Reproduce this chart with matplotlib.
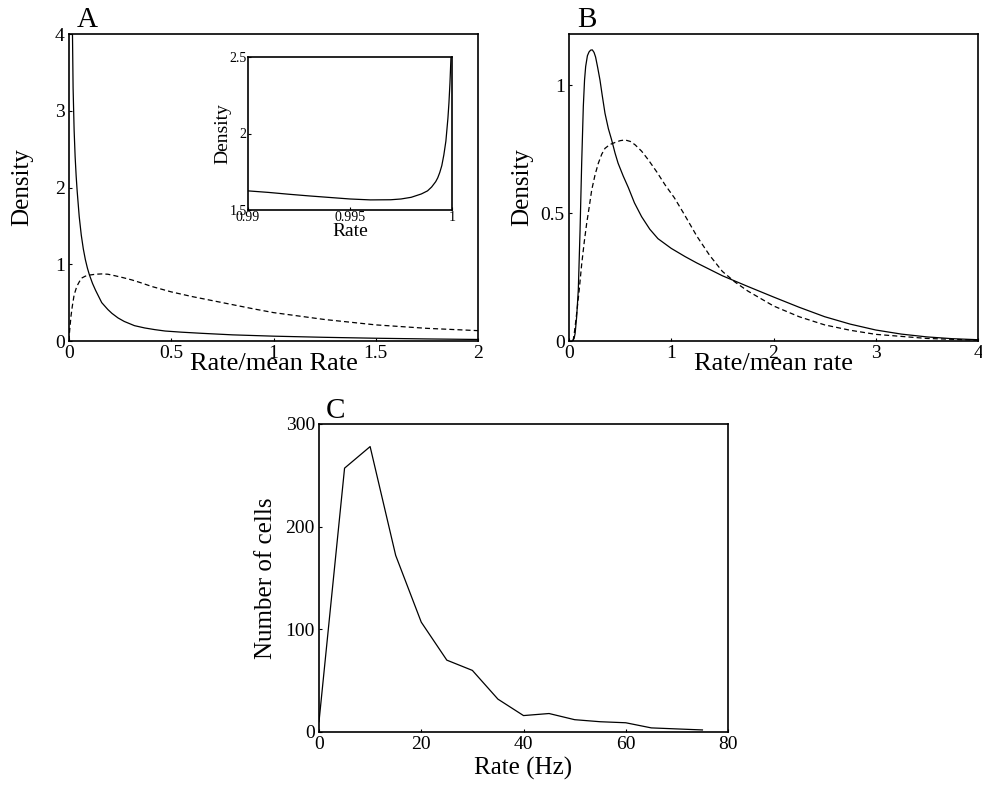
import numpy as np
import matplotlib
matplotlib.use("Agg")
import matplotlib.pyplot as plt

plt.rcParams['font.family'] = ['Liberation Serif', 'DejaVu Serif']

# panel A: density of rate / mean rate
a_solid_x = [0.017, 0.02, 0.025, 0.03, 0.035, 0.04, 0.05, 0.06, 0.07, 0.08, 0.09, 0.1,
             0.115, 0.13, 0.16, 0.19, 0.21, 0.24, 0.27, 0.32, 0.37, 0.42, 0.47, 0.55,
             0.65, 0.8, 1.0, 1.25, 1.5, 1.75, 2.0]
a_solid_y = [4.0, 3.3, 2.75, 2.4, 2.15, 1.95, 1.62, 1.38, 1.2, 1.06, 0.95, 0.86,
             0.75, 0.66, 0.5, 0.41, 0.36, 0.3, 0.255, 0.2, 0.17, 0.148, 0.13, 0.115,
             0.1, 0.08, 0.063, 0.048, 0.036, 0.027, 0.02]
a_dash_x = [0.0, 0.002, 0.005, 0.01, 0.016, 0.025, 0.038, 0.05, 0.062, 0.08, 0.103,
            0.13, 0.16, 0.19, 0.225, 0.265, 0.307, 0.35, 0.405, 0.5, 0.6, 0.75, 0.9,
            1.0, 1.25, 1.5, 1.75, 2.0]
a_dash_y = [0.0, 0.1, 0.19, 0.33, 0.45, 0.6, 0.71, 0.77, 0.82, 0.845, 0.86,
            0.87, 0.874, 0.87, 0.85, 0.825, 0.796, 0.76, 0.71, 0.64, 0.58, 0.5, 0.42,
            0.37, 0.28, 0.21, 0.165, 0.135]

# inset of A
ins_x = [0.99, 0.991, 0.992, 0.993, 0.994, 0.995, 0.996, 0.997, 0.9975, 0.998, 0.9985,
         0.9988, 0.999, 0.9992, 0.9993, 0.9994, 0.9995, 0.9996, 0.9997, 0.9998,
         0.99985, 0.9999, 0.99995]
ins_y = [1.625, 1.615, 1.603, 1.592, 1.582, 1.572, 1.566, 1.567, 1.572, 1.583, 1.605,
         1.625, 1.65, 1.685, 1.71, 1.745, 1.79, 1.86, 1.95, 2.1, 2.2, 2.33, 2.5]

# panel B
b_solid_x = [0.033, 0.05, 0.06, 0.075, 0.091, 0.108, 0.124, 0.14, 0.152, 0.163, 0.18,
             0.196, 0.212, 0.228, 0.245, 0.26, 0.28, 0.303, 0.325, 0.352, 0.385, 0.417,
             0.45, 0.48, 0.53, 0.58, 0.64, 0.71, 0.79, 0.87, 1.0, 1.135, 1.25, 1.5,
             1.75, 2.0, 2.25, 2.5, 2.75, 3.0, 3.25, 3.5, 3.75, 4.0]
b_solid_y = [0.0, 0.01, 0.03, 0.095, 0.2, 0.43, 0.695, 0.917, 1.02, 1.073, 1.115,
             1.13, 1.137, 1.138, 1.128, 1.11, 1.07, 1.02, 0.96, 0.89, 0.83, 0.786,
             0.735, 0.695, 0.645, 0.6, 0.54, 0.486, 0.437, 0.40, 0.362, 0.33,
             0.305, 0.255, 0.213, 0.172, 0.132, 0.095, 0.066, 0.043, 0.027, 0.016,
             0.009, 0.005]
b_dash_x = [0.04, 0.055, 0.075, 0.1, 0.124, 0.15, 0.173, 0.2, 0.222, 0.255, 0.287,
            0.32, 0.352, 0.4, 0.45, 0.5, 0.548, 0.6, 0.646, 0.71, 0.776, 0.86, 0.94,
            1.03, 1.12, 1.25, 1.375, 1.5, 1.625, 1.75, 2.0, 2.25, 2.5, 2.75, 3.0,
            3.5, 4.0]
b_dash_y = [0.0, 0.04, 0.108, 0.2, 0.3, 0.39, 0.46, 0.53, 0.59, 0.65, 0.695,
            0.73, 0.753, 0.768, 0.776, 0.783, 0.786, 0.78, 0.767, 0.742, 0.708, 0.66,
            0.61, 0.56, 0.5, 0.41, 0.335, 0.272, 0.23, 0.195, 0.137, 0.095, 0.063,
            0.042, 0.026, 0.01, 0.003]

# panel C: histogram of rates
c_rate = [0, 5, 10, 15, 20, 25, 30, 35, 40, 45, 50, 55, 60, 65, 70, 75]
c_cells = [10, 257, 278, 172, 107, 70, 60, 32, 16, 18, 12, 10, 9, 4, 3, 2]

W, H = 982, 787
fig = plt.figure(figsize=(W / 100, H / 100), dpi=100)


def px_axes(left, top, right, bottom):
    return fig.add_axes([left / W, 1 - bottom / H, (right - left) / W, (bottom - top) / H])


def style(ax, size=14):
    ax.tick_params(direction='in', length=2.5, width=0.8, labelsize=size, pad=3)
    for s in ax.spines.values():
        s.set_linewidth(1.2)


# A
axA = px_axes(69, 34, 478, 341)
axA.plot(a_solid_x, a_solid_y, color='black', lw=0.9)
axA.plot(a_dash_x, a_dash_y, color='black', lw=0.9, ls=(0, (4, 2.5)))
axA.set_xlim(0, 2)
axA.set_ylim(0, 4)
axA.set_xticks([0, 0.5, 1, 1.5, 2])
axA.set_xticklabels(['0', '0.5', '1', '1.5', '2'])
axA.set_yticks([0, 1, 2, 3, 4])
style(axA)
axA.set_xlabel('Rate/mean Rate', fontsize=19)
axA.xaxis.set_label_coords(0.5, -0.038)
axA.set_ylabel('Density', fontsize=18)
axA.yaxis.set_label_coords(-0.088, 0.5)
axA.text(0.02, 1.023, 'A', transform=axA.transAxes, fontsize=21, va='baseline')

axI = px_axes(248, 57, 452, 210)
axI.plot(ins_x, ins_y, color='black', lw=0.9)
axI.set_xlim(0.99, 1.0)
axI.set_ylim(1.5, 2.5)
axI.set_xticks([0.99, 0.995, 1.0])
axI.set_xticklabels(['0.99', '0.995', '1'])
axI.set_yticks([1.5, 2, 2.5])
axI.set_yticklabels(['1.5', '2', '2.5'])
style(axI, 10)
axI.tick_params(pad=1)
axI.set_xlabel('Rate', fontsize=14)
axI.xaxis.set_label_coords(0.5, -0.085)
axI.set_ylabel('Density', fontsize=14)
axI.yaxis.set_label_coords(-0.083, 0.5)

# B
axB = px_axes(569, 34, 978, 341)
axB.plot(b_solid_x, b_solid_y, color='black', lw=0.9)
axB.plot(b_dash_x, b_dash_y, color='black', lw=0.9, ls=(0, (4, 2.5)))
axB.set_xlim(0, 4)
axB.set_ylim(0, 1.2)
axB.set_xticks([0, 1, 2, 3, 4])
axB.set_yticks([0, 0.5, 1])
axB.set_yticklabels(['0', '0.5', '1'])
style(axB)
axB.set_xlabel('Rate/mean rate', fontsize=19)
axB.xaxis.set_label_coords(0.5, -0.038)
axB.set_ylabel('Density', fontsize=18)
axB.yaxis.set_label_coords(-0.088, 0.5)
axB.text(0.02, 1.023, 'B', transform=axB.transAxes, fontsize=21, va='baseline')

# C
axC = px_axes(319, 424, 728, 732)
axC.plot(c_rate, c_cells, color='black', lw=0.9)
axC.set_xlim(0, 80)
axC.set_ylim(0, 300)
axC.set_xticks([0, 20, 40, 60, 80])
axC.set_yticks([0, 100, 200, 300])
style(axC)
axC.set_xlabel('Rate (Hz)', fontsize=18)
axC.xaxis.set_label_coords(0.5, -0.082)
axC.set_ylabel('Number of cells', fontsize=18)
axC.yaxis.set_label_coords(-0.103, 0.5)
axC.text(0.017, 1.019, 'C', transform=axC.transAxes, fontsize=21, va='baseline')

fig.savefig('out.png', dpi=100)
